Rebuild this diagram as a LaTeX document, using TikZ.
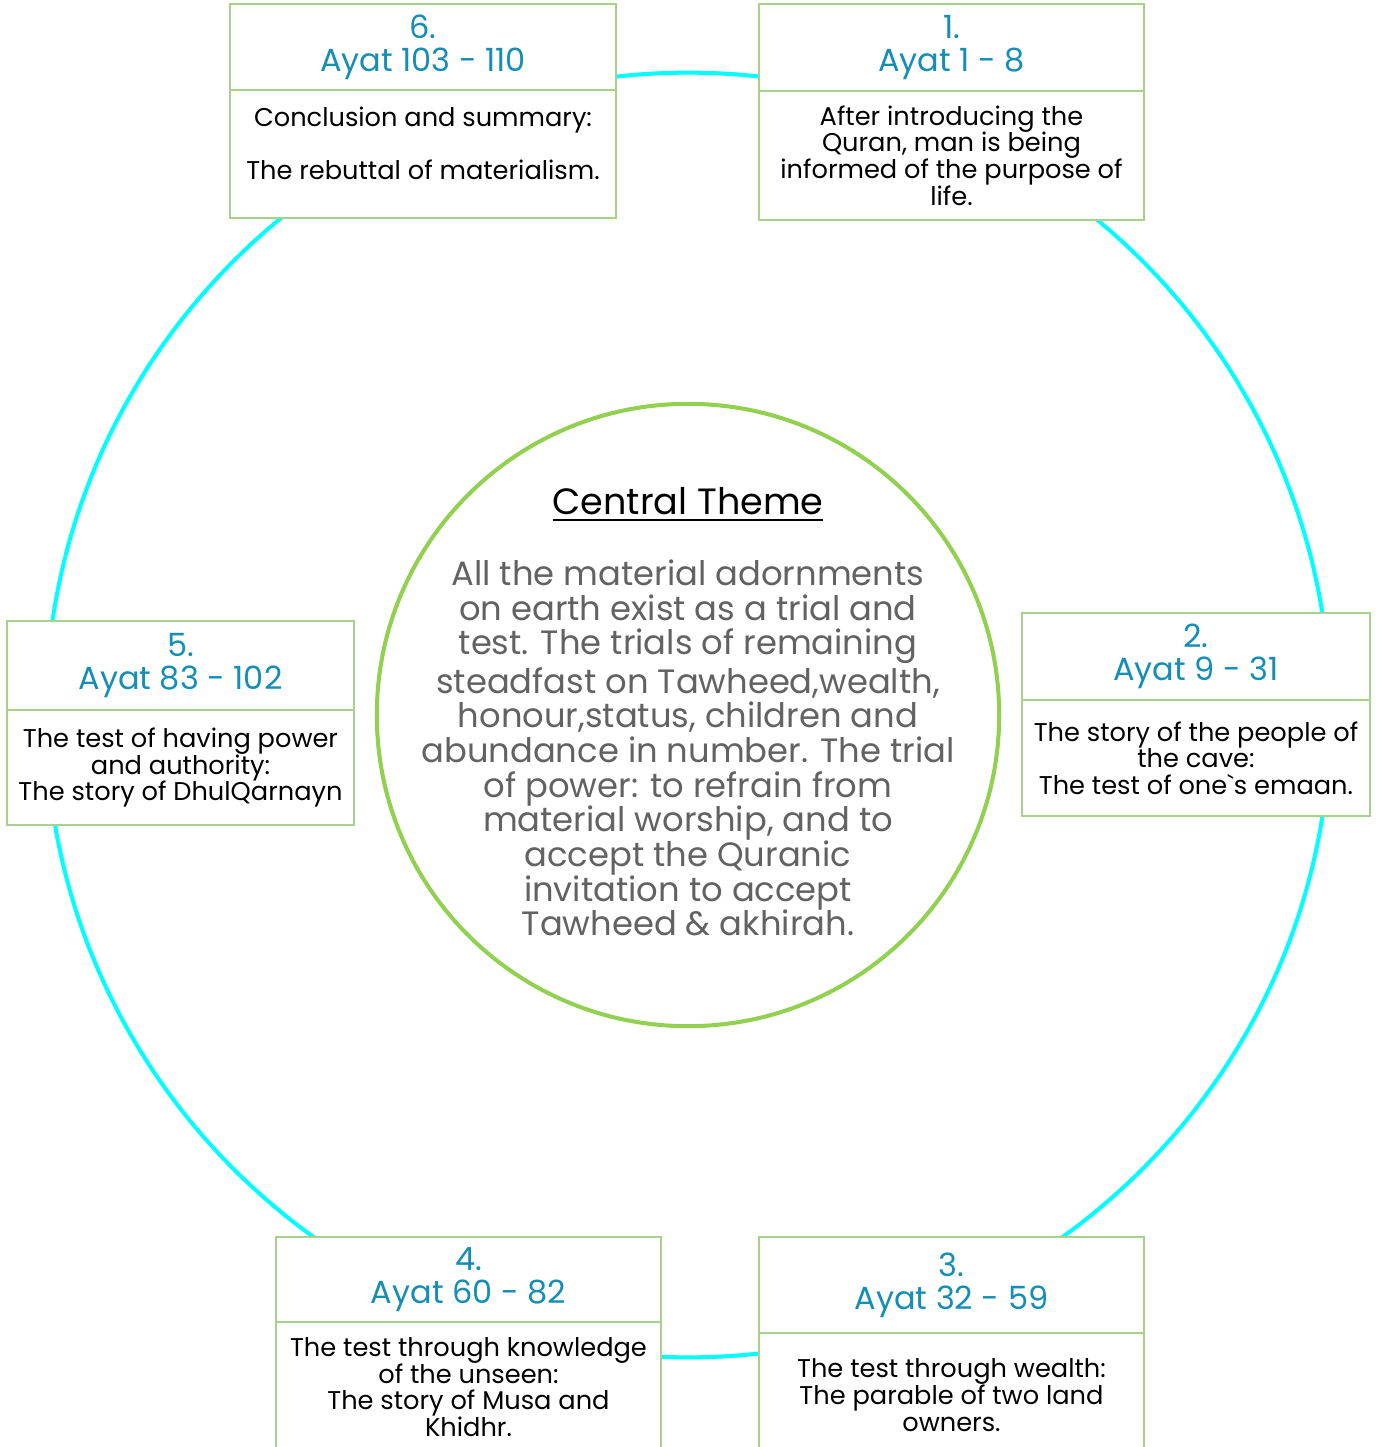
\documentclass[tikz,border=0pt]{standalone}
\usepackage{fontspec}
\setmainfont{Poppins}
\newfontface\plainpop{Poppins}
\usetikzlibrary{positioning}

\definecolor{ringcyan}{HTML}{00FFFF}
\definecolor{themegreen}{HTML}{92D050}
\definecolor{boxgreen}{HTML}{A9D18E}
\definecolor{ayatblue}{HTML}{148EB7}
\definecolor{themegray}{HTML}{626262}

\tikzset{
  head/.style={rectangle, draw=boxgreen, fill=white, line width=0.5pt, inner sep=0pt, outer sep=0pt,
    align=center, text=ayatblue, font=\fontsize{9.1}{9.4}\selectfont},
  body/.style={rectangle, draw=boxgreen, fill=white, line width=0.5pt, inner sep=0pt, outer sep=0pt,
    align=center, text=black, font=\fontsize{7.3}{7.55}\selectfont},
}

\begin{document}
\begin{tikzpicture}[x=0.01cm, y=-0.01cm]
\useasboundingbox (0,0) rectangle (1382,1447);

% outer ring and central theme
\node[circle, draw=ringcyan, line width=1.15pt, minimum size=12.84cm, inner sep=0pt] (ring) at (688,715) {};
\node[circle, draw=themegreen, fill=white, line width=1.15pt, minimum size=6.22cm, inner sep=0pt] (theme) at (688,715) {};
\node[font=\fontsize{10.4}{12}\selectfont] (title) at (688,505) {\underline{Central Theme}};
\node[align=center, text=themegray, font=\fontsize{9.6}{9.85}\selectfont] (themetext) at (688,748)
  {All the material adornments\\ on earth exist as a trial and\\ test. The trials of remaining\\
   steadfast on Tawheed,wealth,\\ honour,status, children and\\ abundance in number. The trial\\
   of power: to refrain from\\ material worship, and to\\ accept the Quranic\\
   invitation to accept\\ Tawheed \& akhirah.};

% 1
\node[head, minimum width=3.85cm, minimum height=0.87cm] (head1) at (951.5,47.5) {1.\\Ayat 1 - 8};
\node[body, minimum width=3.85cm, minimum height=1.29cm, below=0pt of head1] (body1)
  {After introducing the\\ Quran, man is being\\ informed of the purpose of\\ life.};
% 2
\node[head, minimum width=3.48cm, minimum height=0.87cm] (head2) at (1196,656.5) {2.\\Ayat 9 - 31};
\node[body, minimum width=3.48cm, minimum height=1.16cm, below=0pt of head2] (body2)
  {The story of the people of\\ the cave:\\ The test of one{\plainpop`}s emaan.};
% 3
\node[head, minimum width=3.85cm, minimum height=0.96cm] (head3) at (951.5,1285) {3.\\Ayat 32 - 59};
\node[body, minimum width=3.85cm, minimum height=1.24cm, below=0pt of head3] (body3)
  {The test through wealth:\\ The parable of two land\\ owners.};
% 4
\node[head, minimum width=3.85cm, minimum height=0.85cm] (head4) at (468.5,1279.5) {4.\\Ayat 60 - 82};
\node[body, minimum width=3.85cm, minimum height=1.30cm, below=0pt of head4] (body4)
  {The test through knowledge\\ of the unseen:\\ The story of Musa and\\ Khidhr.};
% 5
\node[head, minimum width=3.47cm, minimum height=0.89cm] (head5) at (180.5,665.5) {5.\\Ayat 83 - 102};
\node[body, minimum width=3.47cm, minimum height=1.15cm, below=0pt of head5] (body5)
  {The test of having power\\ and authority:\\ The story of DhulQarnayn};
% 6
\node[head, minimum width=3.86cm, minimum height=0.86cm] (head6) at (423,47) {6.\\Ayat 103 - 110};
\node[body, minimum width=3.86cm, minimum height=1.28cm, below=0pt of head6] (body6)
  {Conclusion and summary:\\[1.05em] The rebuttal of materialism.\\[-0.2em]\mbox{}};
\end{tikzpicture}
\end{document}
